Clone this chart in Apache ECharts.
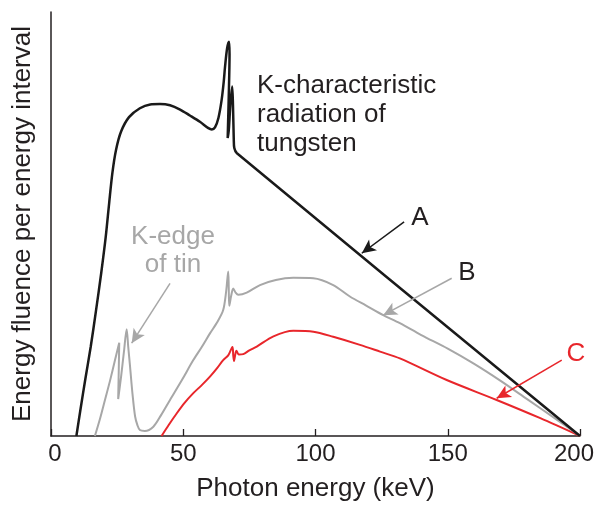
<!DOCTYPE html>
<html>
<head>
<meta charset="utf-8">
<script src="https://cdn.jsdelivr.net/npm/echarts@6/dist/echarts.min.js"></script>
<style>
html,body{margin:0;padding:0;background:#fff;}
#chart{width:597px;height:506px;}
</style>
</head>
<body>
<div id="chart"></div>
<script>
// X tick labels (keV)
var xTicks = [0, 50, 100, 150, 200];

// Curve A: unfiltered spectrum [keV, relative energy fluence]
var curveA = [[9.6,0],[11.2,6.5],[13,13.5],[15,21],[17,29.5],[19,38.5],[20.7,47],[22,55],[23.2,62],[24.6,67.5],[26.5,71.8],[29.5,75.2],[33.6,77.3],[37.5,78.2],[41.2,78.3],[45,78],[48.8,77.0],[52.5,75.6],[56.3,74.1],[59.5,72.6],[60.8,72.3],[62.0,72.8],[63.3,75],[64.5,79.2],[65.3,83.5],[65.8,87.1],[66.6,91.5],[67.3,93.0],[67.5,90],[67.2,80],[66.8,70.3],[67.2,72],[67.8,78],[68.5,82.4],[68.8,78],[69.1,70],[69.3,67.9],[70.3,66.7],[200,0]];

// Curve B: tin-filtered spectrum
var curveB = [[16.6,0],[18.5,4],[20.4,8.5],[22.3,13],[24.2,17.9],[25.8,22.0],[25.6,15],[25.4,8.7],[26.5,14],[27.6,20],[28.6,25.2],[29.2,21],[29.9,16.3],[30.8,10],[31.8,4.6],[32.7,2.5],[33.6,1.4],[35.5,1.2],[38.7,2.2],[41.5,4.8],[45.0,8.5],[49.5,13.2],[53.8,17.9],[57,21],[60.1,24.2],[63,27],[65.1,29.7],[66.2,34],[67.0,38.8],[67.2,35],[67.4,30.7],[68.1,33],[68.9,34.8],[69.8,33.8],[70.8,33.3],[74,33.8],[79,35.6],[85,36.8],[91.6,37.3],[99.2,37.2],[106.7,35.6],[113,32.9],[119,30.8],[125.6,28.5],[131.9,26.6],[140,23.8],[150,20.6],[160,17.0],[170,13.0],[180,8.7],[190,4.4],[200,0]];

// Curve C: heavily filtered spectrum
var curveC = [[41.8,0],[44.5,2.6],[47.5,5.3],[50.5,7.8],[53.8,10.1],[57,12],[60.1,14.0],[62.8,16],[65.1,17.9],[67,19],[68.6,21],[68.9,19],[69.2,17.7],[69.6,19],[70.1,20.1],[71,19.2],[72.7,19.3],[75,20.2],[77.8,21.1],[84.1,23.5],[91.6,24.8],[99.2,24.6],[106.7,23.4],[116.8,21.5],[124.4,19.9],[131.9,18.3],[149.6,13.2],[168.5,8.5],[185,4.2],[200,0]];

// Annotation arrows in data coordinates [from, to]
var arrowA = [[133.5,50.5],[117.5,43.1]];
var arrowB = [[151.5,37.2],[125.6,28.5]];
var arrowC = [[193.1,17.9],[168.5,8.9]];
var arrowTin = [[45,36.0],[30.5,21.9]];

var TXT = '#231f20';
var FONT = '"Liberation Sans", Arial, sans-serif';
var GRAY = '#a7a7a7';
var RED = '#e8262b';

function arrow(pair, color) {
  return {
    silent: true,
    animation: false,
    symbol: ['none', 'arrow'],
    symbolSize: [10, 14],
    label: {show: false},
    lineStyle: {color: color, width: 1.5, type: 'solid'},
    data: [[{coord: pair[0]}, {coord: pair[1]}]]
  };
}

var tickRich = {color: TXT, fontSize: 24, fontFamily: FONT};
var chart = echarts.init(document.getElementById('chart'), null, {renderer: 'canvas'});
chart.setOption({
  animation: false,
  backgroundColor: '#fff',
  grid: {left: 51, right: 17, top: 12, bottom: 70, containLabel: false, outerBoundsMode: 'none'},
  xAxis: {
    type: 'value', min: xTicks[0], max: xTicks[xTicks.length - 1], interval: 50,
    axisLine: {lineStyle: {color: TXT, width: 1.5}},
    axisTick: {inside: true, length: 7, lineStyle: {color: TXT, width: 1.3}},
    axisLabel: {
      color: TXT, fontSize: 24, fontFamily: FONT, margin: 6,
      formatter: function (v) {
        if (v === xTicks[0]) return '{first|' + v + '}';
        if (v === xTicks[xTicks.length - 1]) return '{last|' + v + '}';
        return '{mid|' + v + '}';
      },
      rich: {
        first: Object.assign({padding: [0, 0, 0, 8]}, tickRich),
        mid: tickRich,
        last: Object.assign({padding: [0, 12, 0, 0]}, tickRich)
      }
    },
    splitLine: {show: false},
    name: 'Photon energy (keV)', nameLocation: 'middle', nameGap: 40,
    nameTextStyle: {color: TXT, fontSize: 26, fontFamily: FONT}
  },
  yAxis: {
    type: 'value', min: 0, max: 100,
    axisLine: {show: true, lineStyle: {color: TXT, width: 1.5}},
    axisTick: {show: false}, axisLabel: {show: false}, splitLine: {show: false},
    name: 'Energy fluence per energy interval', nameLocation: 'middle', nameGap: 15,
    nameTextStyle: {color: TXT, fontSize: 26, fontFamily: FONT}
  },
  series: [
    {type: 'line', name: 'C', data: curveC, showSymbol: false, smooth: 0.3,
     lineStyle: {color: RED, width: 2}, markLine: arrow(arrowC, RED), z: 2},
    {type: 'line', name: 'B', data: curveB, showSymbol: false, smooth: 0.3,
     lineStyle: {color: GRAY, width: 2}, markLine: arrow(arrowB, GRAY), z: 3},
    {type: 'line', name: 'A', data: curveA, showSymbol: false, smooth: 0.3,
     lineStyle: {color: '#1a1a1a', width: 2.5}, markLine: arrow(arrowA, '#1a1a1a'), z: 4},
    {type: 'line', name: 'tin', data: [], markLine: arrow(arrowTin, GRAY)}
  ],
  graphic: [
    {type: 'text', left: 257, top: 71, style: {text: 'K-characteristic\nradiation of\ntungsten', fill: TXT, font: '26px ' + FONT, lineHeight: 29}},
    {type: 'text', x: 420, y: 218, style: {text: 'A', fill: TXT, font: '26px ' + FONT, align: 'center', verticalAlign: 'middle'}},
    {type: 'text', x: 467, y: 273, style: {text: 'B', fill: TXT, font: '26px ' + FONT, align: 'center', verticalAlign: 'middle'}},
    {type: 'text', x: 576, y: 354, style: {text: 'C', fill: RED, font: '26px ' + FONT, align: 'center', verticalAlign: 'middle'}},
    {type: 'text', x: 173, y: 223, style: {text: 'K-edge\nof tin', fill: GRAY, font: '26px ' + FONT, align: 'center', lineHeight: 28}}
  ]
});
</script>
</body>
</html>
